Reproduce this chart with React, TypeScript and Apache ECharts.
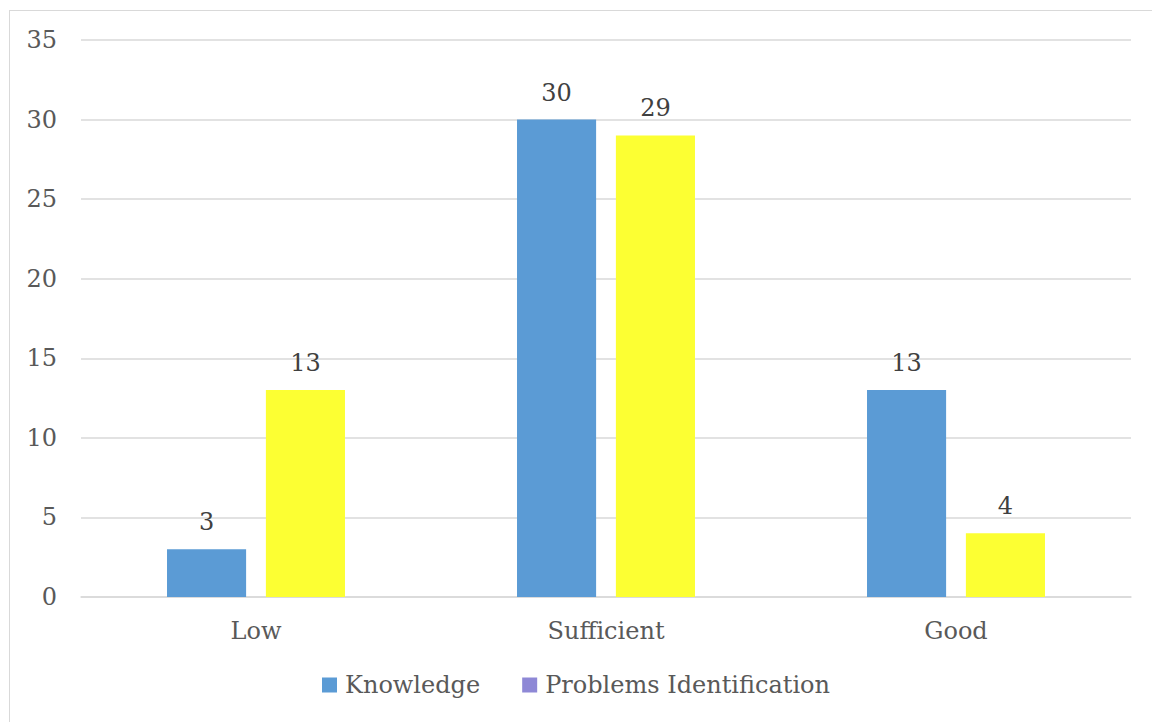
import React, { useEffect, useRef } from "react";
import * as echarts from "echarts";

const categories = ["Low", "Sufficient", "Good"];
const knowledge = [3, 30, 13];
const problemsIdentification = [13, 29, 4];
const yTicks = { min: 0, max: 35, interval: 5 };

const FONT = "DejaVu Serif";
const FS = 24;

export default function App() {
  const ref = useRef<HTMLDivElement>(null);
  useEffect(() => {
    if (!ref.current) return;
    const chart = echarts.init(ref.current, undefined, { renderer: "svg" });
    chart.setOption({
      animation: false,
      textStyle: { fontFamily: FONT },
      grid: { left: 81, right: 21, top: 40, bottom: 125, containLabel: false },
      legend: {
        bottom: 20,
        left: "center",
        itemWidth: 15,
        itemHeight: 15,
        itemGap: 42,
        icon: "rect",
        textStyle: { fontFamily: FONT, fontSize: FS, color: "#595959", padding: [0, 0, 0, 3] },
        data: [
          { name: "Knowledge", itemStyle: { color: "#5B9BD5" } },
          { name: "Problems Identification", itemStyle: { color: "#8E88D6" } },
        ],
      },
      xAxis: {
        type: "category",
        data: categories,
        axisTick: { show: false },
        axisLine: { show: true, lineStyle: { color: "#d9d9d9", width: 1.5 } },
        axisLabel: { fontFamily: FONT, fontSize: FS, color: "#595959", margin: 22 },
      },
      yAxis: {
        type: "value",
        min: yTicks.min,
        max: yTicks.max,
        interval: yTicks.interval,
        axisLine: { show: false },
        axisTick: { show: false },
        splitLine: { lineStyle: { color: "#d9d9d9", width: 1.5 } },
        axisLabel: { fontFamily: FONT, fontSize: FS, color: "#595959", margin: 24 },
      },
      series: [
        {
          name: "Knowledge",
          type: "bar",
          data: knowledge,
          barWidth: "22.6%",
          barGap: "25%",
          itemStyle: { color: "#5B9BD5" },
          label: { show: true, position: "top", distance: 15, fontFamily: FONT, fontSize: FS, color: "#404040" },
        },
        {
          name: "Problems Identification",
          type: "bar",
          data: problemsIdentification,
          barWidth: "22.6%",
          barGap: "25%",
          itemStyle: { color: "#FCFF33" },
          label: { show: true, position: "top", distance: 15, fontFamily: FONT, fontSize: FS, color: "#404040" },
        },
      ],
    });
    return () => chart.dispose();
  }, []);
  return (
    <div style={{ position: "fixed", left: 0, top: 0, width: 1152, height: 722, overflow: "hidden", background: "#fff" }}>
      <div
        style={{
          position: "absolute",
          left: 9,
          top: 10,
          width: 1200,
          height: 800,
          border: "1.5px solid #d9d9d9",
          boxSizing: "border-box",
        }}
      />
      <div ref={ref} style={{ position: "absolute", left: 0, top: 0, width: 1152, height: 722 }} />
    </div>
  );
}
